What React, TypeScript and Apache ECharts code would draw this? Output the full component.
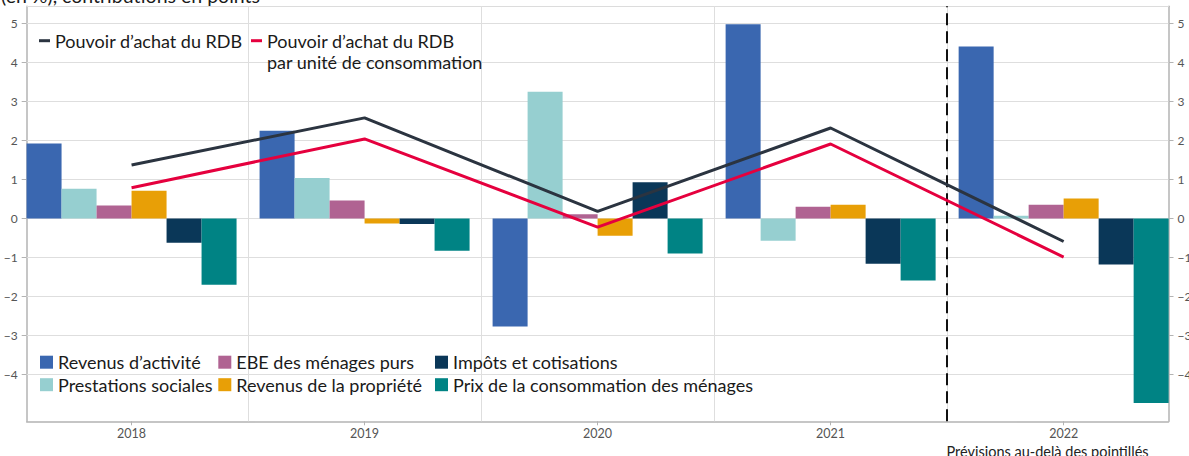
import React, { useEffect, useRef } from 'react';
import * as echarts from 'echarts';

const years = ['2018', '2019', '2020', '2021', '2022'];
const yearPos = [0, 1, 2, 3, 4];
const revenusActivite = [1.92, 2.25, -2.77, 4.98, 4.41];
const prestationsSociales = [0.76, 1.04, 3.25, -0.57, 0.07];
const ebeMenagesPurs = [0.33, 0.46, 0.11, 0.3, 0.35];
const revenusPropriete = [0.71, -0.13, -0.44, 0.35, 0.51];
const impotsCotisations = [-0.62, -0.14, 0.93, -1.16, -1.18];
const prixConsommation = [-1.7, -0.83, -0.9, -1.59, -4.73];
const pouvoirAchat = [1.37, 2.58, 0.18, 2.32, -0.59];
const pouvoirAchatUC = [0.79, 2.04, -0.22, 1.91, -0.99];
const yTicks = [-4, -3, -2, -1, 0, 1, 2, 3, 4, 5];
const yearBoundaries = [0.5, 1.5, 2.5, 3.5];
const forecastStart = 3.5;

const FONT = 'Lato';
const NAME_RDB = 'Pouvoir d’achat du RDB';
const NAME_RDB_UC = 'Pouvoir d’achat du RDB par unité de consommation';

const barDefs = [
  { name: 'Revenus d’activité', values: revenusActivite, color: '#3a67b0' },
  { name: 'Prestations sociales', values: prestationsSociales, color: '#96cfd0' },
  { name: 'EBE des ménages purs', values: ebeMenagesPurs, color: '#b06392' },
  { name: 'Revenus de la propriété', values: revenusPropriete, color: '#e89f06' },
  { name: 'Impôts et cotisations', values: impotsCotisations, color: '#0a3758' },
  { name: 'Prix de la consommation des ménages', values: prixConsommation, color: '#008384' },
];

const fmtY = (v: number) => (v < 0 ? '−' + Math.abs(v) : String(v));

export default function App() {
  const ref = useRef<HTMLDivElement>(null);
  useEffect(() => {
    if (!ref.current) return;
    const chart = echarts.init(ref.current, undefined, { renderer: 'svg' });
    const toPairs = (arr: number[]) => arr.map((v, i) => [yearPos[i], v]);
    const yAxisBase = (position: 'left' | 'right') => ({
      type: 'value',
      position,
      min: -5.2,
      max: 5.44,
      axisLine: { show: true, onZero: false, lineStyle: { color: '#b3b3b3', width: 1.5 } },
      axisTick: { show: true, customValues: yTicks, length: 5, lineStyle: { color: '#b3b3b3' } },
      axisLabel: {
        customValues: yTicks,
        formatter: fmtY,
        color: '#555',
        fontSize: 12,
        fontFamily: FONT,
        margin: 9,
      },
      splitLine: { show: false },
    });
    const bottomLegend = (left: number, names: string[]) => ({
      orient: 'vertical',
      left,
      top: 352.2,
      padding: 0,
      itemGap: 2.5,
      itemWidth: 13,
      itemHeight: 13,
      icon: 'rect',
      selectedMode: false,
      data: names,
      textStyle: { fontFamily: FONT, fontSize: 18, color: '#1a1a1a', lineHeight: 20 },
    });
    const option: any = {
      animation: false,
      grid: { left: 26.7, right: 20.5, top: 6.3, bottom: 34.7, containLabel: false, outerBoundsMode: 'none' },
      xAxis: [
        {
          type: 'value',
          position: 'bottom',
          min: -0.45,
          max: 4.45,
          axisLine: { show: true, onZero: false, lineStyle: { color: '#b3b3b3', width: 1.5 } },
          axisTick: { show: true, customValues: yearPos, length: 4, lineStyle: { color: '#b3b3b3' } },
          axisLabel: {
            customValues: yearPos,
            formatter: (v: number) => years[Math.round(v)],
            color: '#555',
            fontSize: 12.5,
            fontFamily: FONT,
            margin: 6,
          },
          splitLine: { show: false },
        },
        {
          type: 'value',
          position: 'top',
          min: -0.45,
          max: 4.45,
          axisLine: { show: true, onZero: false, lineStyle: { color: '#dcdcdc', width: 1 } },
          axisTick: { show: false },
          axisLabel: { show: false },
          splitLine: { show: false },
        },
      ],
      yAxis: [yAxisBase('left'), yAxisBase('right')],
      legend: [
        {
          left: 39,
          top: 29.95,
          padding: 0,
          icon: 'rect',
          itemWidth: 11,
          itemHeight: 3,
          selectedMode: false,
          data: [NAME_RDB],
          textStyle: { fontFamily: FONT, fontSize: 18, color: '#1a1a1a', lineHeight: 21.5 },
        },
        {
          left: 251,
          top: 8.45,
          padding: 0,
          icon: 'rect',
          itemWidth: 11,
          itemHeight: 3,
          selectedMode: false,
          data: [NAME_RDB_UC],
          formatter: () => '\nPouvoir d’achat du RDB\npar unité de consommation',
          textStyle: {
            fontFamily: FONT,
            fontSize: 18,
            color: '#1a1a1a',
            lineHeight: 21.5,
          },
        },
        bottomLegend(40, [barDefs[0].name, barDefs[1].name]),
        bottomLegend(218.3, [barDefs[2].name, barDefs[3].name]),
        bottomLegend(435, [barDefs[4].name, barDefs[5].name]),
      ],
      graphic: [
        {
          type: 'text',
          x: 260,
          y: -5,
          silent: true,
          style: {
            text: '(en %), contributions en points',
            textAlign: 'right',
            textVerticalAlign: 'middle',
            fontFamily: FONT,
            fontSize: 19.5,
            fill: '#1a1a1a',
          },
        },
        {
          type: 'text',
          x: 1047.5,
          y: 451,
          silent: true,
          style: {
            text: 'Prévisions au-delà des pointillés',
            textAlign: 'center',
            textVerticalAlign: 'middle',
            fontFamily: FONT,
            fontSize: 14.5,
            fill: '#222',
          },
        },
      ],
      series: [
        ...barDefs.map((b) => ({
          type: 'bar',
          name: b.name,
          xAxisIndex: 0,
          yAxisIndex: 0,
          barWidth: 35,
          barGap: '0%',
          itemStyle: { color: b.color },
          data: toPairs(b.values),
          z: 2,
        })),
        {
          type: 'line',
          name: NAME_RDB,
          xAxisIndex: 0,
          yAxisIndex: 0,
          data: toPairs(pouvoirAchat),
          symbol: 'none',
          itemStyle: { color: '#2b3440' },
          lineStyle: { color: '#2b3440', width: 3 },
          z: 4,
          markLine: {
            silent: true,
            z: 1,
            symbol: 'none',
            label: { show: false },
            lineStyle: { color: '#dedede', width: 1, type: 'solid' },
            data: [
              ...yTicks.map((v) => ({ yAxis: v })),
              ...yearBoundaries.map((v) => ({ xAxis: v })),
            ],
          },
        },
        {
          type: 'line',
          name: NAME_RDB_UC,
          xAxisIndex: 0,
          yAxisIndex: 0,
          data: toPairs(pouvoirAchatUC),
          symbol: 'none',
          itemStyle: { color: '#e5003e' },
          lineStyle: { color: '#e5003e', width: 3 },
          z: 4,
          markLine: {
            silent: true,
            z: 3,
            symbol: 'none',
            label: { show: false },
            lineStyle: { color: '#111', width: 2, type: [12, 6] },
            data: [{ xAxis: forecastStart }],
          },
        },
      ],
    };
    chart.setOption(option);
    return () => chart.dispose();
  }, []);
  return (
    <div
      ref={ref}
      style={{ position: 'absolute', left: 0, top: 0, width: 1189, height: 456 }}
    />
  );
}
